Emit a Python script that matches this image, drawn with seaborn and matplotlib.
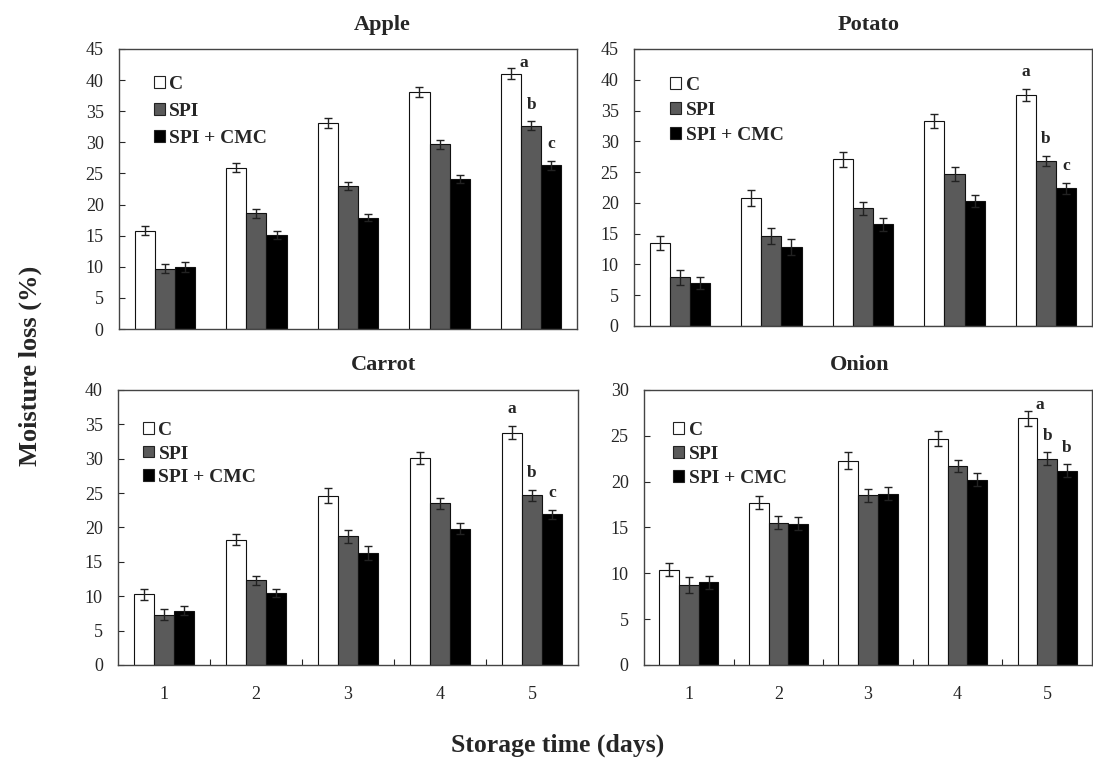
import matplotlib
matplotlib.use('Agg')
import matplotlib.pyplot as plt
from matplotlib.patches import Patch
import seaborn as sns
import numpy as np
import pandas as pd

# Moisture loss (%) over 5 storage days for each coating treatment
days = ['1', '2', '3', '4', '5']
coatings = ['C', 'SPI', 'SPI + CMC']

apple_c = [15.8, 25.9, 33.1, 38.1, 41.0]
apple_spi = [9.7, 18.6, 23.0, 29.7, 32.7]
apple_cmc = [10.0, 15.1, 17.9, 24.1, 26.3]
apple_err_c = [0.7, 0.7, 0.8, 0.8, 0.9]
apple_err_spi = [0.7, 0.7, 0.7, 0.7, 0.7]
apple_err_cmc = [0.8, 0.6, 0.6, 0.7, 0.7]

potato_c = [13.5, 20.8, 27.1, 33.3, 37.5]
potato_spi = [7.9, 14.6, 19.1, 24.7, 26.8]
potato_cmc = [7.0, 12.8, 16.5, 20.3, 22.4]
potato_err_c = [1.2, 1.3, 1.2, 1.1, 1.0]
potato_err_spi = [1.2, 1.3, 1.1, 1.1, 0.8]
potato_err_cmc = [1.0, 1.3, 1.0, 1.0, 0.9]

carrot_c = [10.3, 18.2, 24.6, 30.1, 33.8]
carrot_spi = [7.3, 12.3, 18.7, 23.5, 24.7]
carrot_cmc = [7.9, 10.5, 16.3, 19.8, 21.9]
carrot_err_c = [0.8, 0.8, 1.1, 0.9, 1.0]
carrot_err_spi = [0.8, 0.7, 1.0, 0.8, 0.8]
carrot_err_cmc = [0.7, 0.6, 1.0, 0.8, 0.7]

onion_c = [10.4, 17.7, 22.3, 24.7, 26.9]
onion_spi = [8.7, 15.5, 18.5, 21.7, 22.5]
onion_cmc = [9.0, 15.4, 18.7, 20.2, 21.2]
onion_err_c = [0.7, 0.7, 0.9, 0.8, 0.8]
onion_err_spi = [0.9, 0.7, 0.7, 0.7, 0.7]
onion_err_cmc = [0.7, 0.7, 0.7, 0.7, 0.7]

# significance letters on day 5
apple_letters = ['a', 'b', 'c']
potato_letters = ['a', 'b', 'c']
carrot_letters = ['a', 'b', 'c']
onion_letters = ['a', 'b', 'b']

y_max = {'Apple': 45, 'Potato': 45, 'Carrot': 40, 'Onion': 30}

panels = [
    ('Apple', [apple_c, apple_spi, apple_cmc],
     [apple_err_c, apple_err_spi, apple_err_cmc], apple_letters),
    ('Potato', [potato_c, potato_spi, potato_cmc],
     [potato_err_c, potato_err_spi, potato_err_cmc], potato_letters),
    ('Carrot', [carrot_c, carrot_spi, carrot_cmc],
     [carrot_err_c, carrot_err_spi, carrot_err_cmc], carrot_letters),
    ('Onion', [onion_c, onion_spi, onion_cmc],
     [onion_err_c, onion_err_spi, onion_err_cmc], onion_letters),
]

sns.set_style('white')
plt.rcParams['font.family'] = ['Liberation Serif', 'DejaVu Serif']

colors = ['white', '#5a5a5a', 'black']

fig = plt.figure(figsize=(10.93, 7.62), dpi=100)
# axes boxes [left, bottom, width, height] in figure fraction
boxes = [
    [0.1089, 0.5682, 0.4190, 0.3675],
    [0.5800, 0.5722, 0.4190, 0.3635],
    [0.1080, 0.1273, 0.4209, 0.3610],
    [0.5892, 0.1273, 0.4099, 0.3610],
]
title_x = [0.574, 0.512, 0.576, 0.481]
legend_pos = [(0.076, 0.905), (0.079, 0.9), (0.054, 0.883), (0.065, 0.883)]
legend_space = [0.53, 0.42, 0.33, 0.35]

for i, (name, vals, errs, letters) in enumerate(panels):
    ax = fig.add_axes(boxes[i])
    df = pd.DataFrame({
        'day': np.tile(days, 3),
        'coating': np.repeat(coatings, len(days)),
        'loss': np.concatenate(vals),
    })
    sns.barplot(data=df, x='day', y='loss', hue='coating', palette=colors,
                width=0.66, gap=0, errorbar=None, edgecolor='#111111',
                linewidth=0.8, ax=ax, legend=False)

    ymax = y_max[name]
    bars = list(ax.containers)
    for k, cont in enumerate(bars):
        xs = [p.get_x() + p.get_width() / 2 for p in cont]
        ax.errorbar(xs, vals[k], yerr=errs[k], fmt='none', ecolor='#222222',
                    elinewidth=1.0, capsize=3.2, capthick=1.0)
        # letter above last day
        top = vals[k][-1] + errs[k][-1]
        if top > 0.9 * ymax:
            off = (9, 4)
        else:
            off = (0, 12)
        ax.annotate(letters[k], (xs[-1], top), xytext=off,
                    textcoords='offset points', ha='center', va='center',
                    fontsize=12.5, fontweight='bold')

    ax.set_xlim(-0.5, 4.5)
    ax.set_ylim(0, ymax)
    ax.set_yticks(np.arange(0, ymax + 1, 5))
    ax.set_xlabel('')
    ax.set_ylabel('')
    ax.tick_params(axis='y', direction='in', length=4, width=0.8,
                   labelsize=13, pad=11, left=True)
    if i >= 2:
        ax.tick_params(axis='x', which='major', length=0, pad=15, labelsize=13)
        ax.set_xticks([0.5, 1.5, 2.5, 3.5], minor=True)
        ax.tick_params(axis='x', which='minor', direction='in', length=4,
                       width=0.8, bottom=True)
    else:
        ax.tick_params(axis='x', length=0, labelbottom=False)

    for sp in ax.spines.values():
        sp.set_color('#444444')
        sp.set_linewidth(1.0)

    ax.set_title(name, x=title_x[i], pad=14, fontsize=16, fontweight='bold')

    handles = [Patch(facecolor=c, edgecolor='#222222', linewidth=0.8) for c in colors]
    ax.legend(handles, coatings, loc='upper left', bbox_to_anchor=legend_pos[i],
              frameon=False, borderpad=0, borderaxespad=0, handlelength=0.55,
              handleheight=0.55, handletextpad=0.25, labelspacing=legend_space[i],
              prop={'size': 14, 'weight': 'bold'})

fig.text(0.028, 0.52, 'Moisture loss (%)', rotation=90, ha='center', va='center',
         fontsize=19, fontweight='bold')
fig.text(0.51, 0.022, 'Storage time (days)', ha='center', va='center',
         fontsize=18.5, fontweight='bold')

fig.savefig('out.png', dpi=100)
